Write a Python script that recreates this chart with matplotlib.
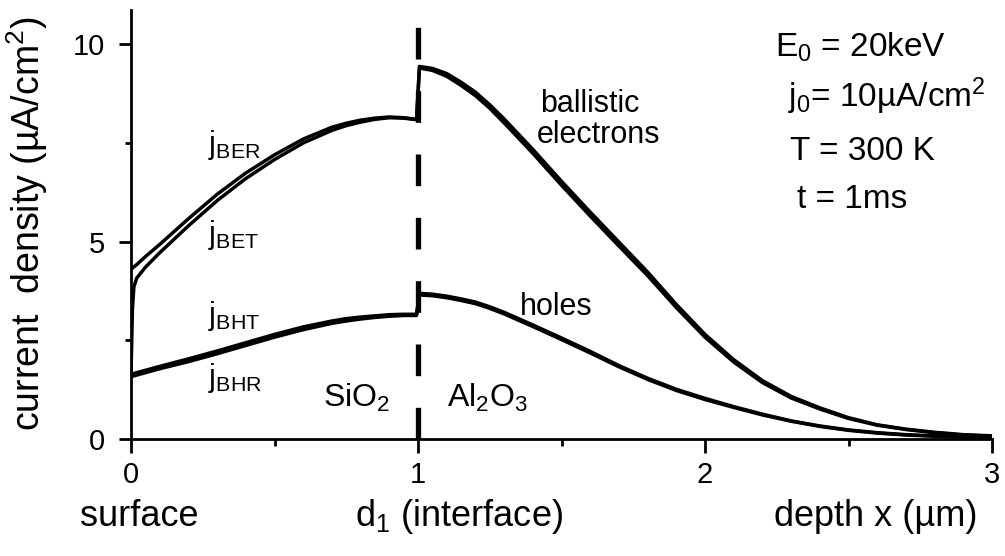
import matplotlib
matplotlib.use("Agg")
import matplotlib.pyplot as plt
from matplotlib.ticker import MultipleLocator

plt.rcParams['font.family'] = ['Liberation Sans', 'DejaVu Sans']
plt.rcParams['mathtext.fontset'] = 'custom'
plt.rcParams['mathtext.rm'] = 'Liberation Sans'
plt.rcParams['mathtext.it'] = 'Liberation Sans'
plt.rcParams['mathtext.default'] = 'regular'

# depth grid in the SiO2 layer (0..d1) and in the Al2O3 layer (d1..3)
x_sio2 = [0, 0.005, 0.01, 0.02, 0.05, 0.1, 0.2, 0.3, 0.4, 0.5, 0.6, 0.7, 0.75, 0.8, 0.85, 0.9, 0.95, 0.995]
x_al2o3 = [1.005, 1.05, 1.1, 1.15, 1.2, 1.25, 1.3, 1.4, 1.5, 1.6, 1.7, 1.8, 1.9, 2.0,
           2.1, 2.2, 2.3, 2.4, 2.5, 2.6, 2.7, 2.8, 2.9, 3.0]

# ballistic electrons
jBER_sio2 = [4.30, 4.33, 4.36, 4.42, 4.62, 4.93, 5.58, 6.20, 6.74, 7.20, 7.60, 7.90, 8.00, 8.08, 8.13, 8.16, 8.14, 8.10]
jBET_sio2 = [1.60, 3.30, 3.85, 4.08, 4.35, 4.72, 5.40, 6.04, 6.60, 7.08, 7.50, 7.82, 7.94, 8.03, 8.10, 8.14, 8.13, 8.09]
jBER_al2o3 = [9.44, 9.39, 9.26, 9.04, 8.79, 8.47, 8.11, 7.34, 6.53, 5.75, 4.99, 4.23, 3.41, 2.65,
              2.01, 1.48, 1.08, 0.79, 0.54, 0.36, 0.25, 0.17, 0.11, 0.08]
jBET_al2o3 = [9.40, 9.34, 9.19, 8.96, 8.70, 8.38, 8.01, 7.24, 6.43, 5.65, 4.89, 4.14, 3.33, 2.58,
              1.95, 1.43, 1.04, 0.76, 0.52, 0.35, 0.24, 0.16, 0.10, 0.07]

# holes
jBHT_sio2 = [1.64, 1.65, 1.66, 1.68, 1.74, 1.84, 2.03, 2.23, 2.44, 2.65, 2.84, 2.99, 3.05, 3.09, 3.12, 3.15, 3.16, 3.16]
jBHR_sio2 = [1.58, 1.59, 1.60, 1.62, 1.68, 1.78, 1.96, 2.16, 2.37, 2.58, 2.77, 2.93, 2.99, 3.04, 3.08, 3.11, 3.13, 3.13]
jBHT_al2o3 = [3.69, 3.67, 3.62, 3.55, 3.47, 3.35, 3.21, 2.89, 2.56, 2.22, 1.86, 1.54, 1.26, 1.03,
              0.82, 0.63, 0.46, 0.33, 0.23, 0.16, 0.11, 0.08, 0.06, 0.05]
jBHR_al2o3 = [3.65, 3.63, 3.58, 3.51, 3.43, 3.31, 3.17, 2.85, 2.52, 2.18, 1.83, 1.51, 1.23, 1.00,
              0.80, 0.61, 0.45, 0.32, 0.22, 0.15, 0.10, 0.07, 0.05, 0.04]

d1 = 1.0

fig = plt.figure(figsize=(10.05, 5.56), dpi=100)
ax = fig.add_axes([131 / 1005, 1 - 439 / 556, 861 / 1005, 429 / 556])

x_all = x_sio2 + x_al2o3
lw = 2.5
for ys in [jBER_sio2 + jBER_al2o3, jBET_sio2 + jBET_al2o3,
           jBHT_sio2 + jBHT_al2o3, jBHR_sio2 + jBHR_al2o3]:
    ax.plot(x_all, ys, color='black', lw=lw, solid_joinstyle='round', zorder=3)

# interface
ax.plot([d1, d1], [0, 10.45], color='black', lw=3.8, dashes=(6.0, 6.0), zorder=2)

ax.set_xlim(0, 3)
ax.set_ylim(0, 10.87)
ax.spines['top'].set_visible(False)
ax.spines['right'].set_visible(False)
for s in ['left', 'bottom']:
    ax.spines[s].set_linewidth(2.0)

ax.xaxis.set_major_locator(MultipleLocator(1))
ax.xaxis.set_minor_locator(MultipleLocator(0.5))
ax.yaxis.set_major_locator(MultipleLocator(5))
ax.yaxis.set_minor_locator(MultipleLocator(2.5))
ax.tick_params(axis='x', which='major', length=10, width=2.0, pad=6, labelsize=21)
ax.tick_params(axis='x', which='minor', length=5, width=2.0)
ax.tick_params(axis='y', which='major', length=8.5, width=2.0, pad=10, labelsize=21)
ax.tick_params(axis='y', which='minor', length=4, width=2.0)

# labels on the curves
ax.text(0.268, 7.25, r'j$_{BER}$', fontsize=22)
ax.text(0.268, 4.97, r'j$_{BET}$', fontsize=22)
ax.text(0.268, 2.92, r'j$_{BHT}$', fontsize=22)
ax.text(0.268, 1.34, r'j$_{BHR}$', fontsize=22)
ax.text(0.669, 0.81, r'SiO$_2$', fontsize=23)
ax.text(1.101, 0.81, r'Al$_2$O$_3$', fontsize=23)
ax.text(1.355, 3.14, 'holes', fontsize=22)
ax.text(1.425, 8.29, 'ballistic', fontsize=22)
ax.text(1.415, 7.50, 'electrons', fontsize=22)

# parameters
ax.text(2.244, 9.68, r'E$_0$ = 20keV', fontsize=24)
ax.text(2.29, 8.42, r'j$_0$= 10µA/cm$^2$', fontsize=24)
ax.text(2.296, 7.07, 'T = 300 K', fontsize=24)
ax.text(2.32, 5.86, 't = 1ms', fontsize=24)

fig.text(27 / 1005, 1 - 224 / 556, r'current  density (µA/cm$^2$)', rotation=90,
         ha='center', va='center', fontsize=27)
fig.text(80 / 1005, 1 - 526 / 556, 'surface', fontsize=26)
fig.text(355 / 1005, 1 - 526 / 556, r'd$_1$ (interface)', fontsize=26)
fig.text(978 / 1005, 1 - 526 / 556, 'depth x (µm)', ha='right', fontsize=26)

fig.savefig('out.png', dpi=100)
